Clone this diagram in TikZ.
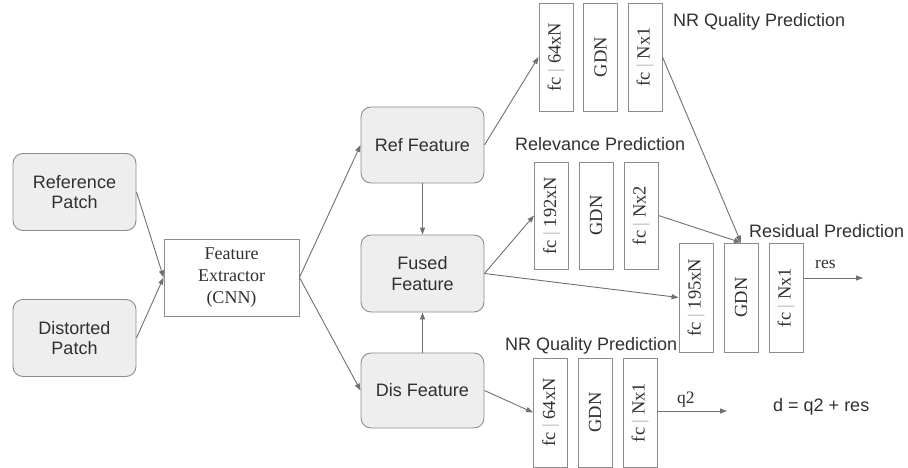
\documentclass[tikz,border=0pt]{standalone}
\usepackage{fontspec}
\setmainfont{Liberation Sans}
\newfontfamily\serifface{Liberation Serif}
\usetikzlibrary{arrows.meta}
\definecolor{ink}{HTML}{303030}
\definecolor{edgegray}{HTML}{8C8C8C}
\definecolor{wire}{HTML}{707070}
\definecolor{panel}{HTML}{EEEEEE}
\definecolor{barcol}{HTML}{B0B0B0}
\newcommand{\sepbar}{{\color{barcol}|}}

\begin{document}
\begin{tikzpicture}[x=1pt,y=-1pt,
  font=\fontsize{18}{20.5}\selectfont, text=ink,
  rbox/.style={draw=edgegray, fill=panel, rounded corners=10pt, line width=0.9pt,
    minimum width=123pt, minimum height=77pt, align=center, inner sep=0pt},
  febox/.style={draw=edgegray, fill=white, line width=0.9pt,
    minimum width=135pt, minimum height=77pt, align=center, inner sep=0pt,
    font=\serifface\fontsize{18}{22}\selectfont},
  layer/.style={draw=edgegray, fill=white, line width=0.9pt,
    minimum width=34pt, minimum height=108pt, inner sep=0pt},
  vtext/.style={rotate=90, inner sep=0pt, text=ink,
    font=\serifface\fontsize{18.5}{20}\selectfont},
  head/.style={anchor=base west, inner sep=0pt},
  tag/.style={anchor=base west, inner sep=0pt, font=\serifface\fontsize{17.5}{20}\selectfont},
  arr/.style={draw=wire, line width=0.9pt, -{Triangle[length=7pt,width=5pt]}}
]
\useasboundingbox (0,0) rectangle (908,468);

% input patches and shared extractor
\node[rbox] (refp) at (74.5,192) {Reference\\Patch};
\node[rbox] (disp) at (74.5,338) {Distorted\\Patch};
\node[febox] (fe) at (231.5,277.5) {Feature\\Extractor\\(CNN)};

% feature nodes
\node[rbox, minimum height=76pt] (reff) at (422.5,145) {Ref Feature};
\node[rbox] (fused) at (422.5,273.5) {Fused\\Feature};
\node[rbox, minimum height=75pt] (disf) at (422.5,390.5) {Dis Feature};

% NR quality head (reference branch)
\node[layer, label={[vtext]center:fc \sepbar{} 64xN}] (qa) at (556,57) {};
\node[layer, label={[vtext]center:GDN}] (qb) at (600.5,57) {};
\node[layer, label={[vtext]center:fc \sepbar{} Nx1}] (qc) at (645,57) {};

% relevance head
\node[layer, minimum height=107pt, label={[vtext]center:fc \sepbar{} 192xN}] (ra) at (551.5,215.5) {};
\node[layer, minimum height=107pt, label={[vtext]center:GDN}] (rb) at (596,215.5) {};
\node[layer, minimum height=107pt, label={[vtext]center:fc \sepbar{} Nx2}] (rc) at (641,215.5) {};

% residual head
\node[layer, minimum height=109pt, label={[vtext]center:fc \sepbar{} 195xN}] (sa) at (696,297.5) {};
\node[layer, minimum height=109pt, label={[vtext]center:GDN}] (sb) at (741,297.5) {};
\node[layer, minimum height=109pt, label={[vtext]center:fc \sepbar{} Nx1}] (sc) at (786,297.5) {};

% NR quality head (distorted branch)
\node[layer, minimum height=109pt, label={[vtext]center:fc \sepbar{} 64xN}] (da) at (550.5,412.5) {};
\node[layer, minimum height=109pt, label={[vtext]center:GDN}] (db) at (595,412.5) {};
\node[layer, minimum height=109pt, label={[vtext]center:fc \sepbar{} Nx1}] (dc) at (640,412.5) {};

% head titles
\node[head] (t1) at (673,27) {NR Quality Prediction};
\node[head] (t2) at (515,150) {Relevance Prediction};
\node[head] (t3) at (749,237) {Residual Prediction};
\node[head] (t4) at (505,350) {NR Quality Prediction};
\node[head] (eq) at (773,411) {d = q2 + res};

% output ends
\coordinate (resend) at (863,278);
\coordinate (q2end) at (727,411);
\node[tag] (reslbl) at (815,268) {res};
\node[tag] (q2lbl) at (677,403) {q2};

% connectors
\draw[arr] (refp.east) -- (fe.west);
\draw[arr] (disp.east) -- (fe.west);
\draw[arr] (fe.east) -- (reff.west);
\draw[arr] (fe.east) -- (disf.west);
\draw[arr] (reff.south) -- (fused.north);
\draw[arr] (disf.north) -- (fused.south);
\draw[arr] (reff.east) -- (qa.west);
\draw[arr] (fused.east) -- (ra.west);
\draw[arr] (fused.east) -- (sa.west);
\draw[arr] (disf.east) -- (da.west);
\draw[arr] (qc.east) -- (sb.north);
\draw[arr] (rc.east) -- (sb.north);
\draw[arr] (sc.east |- resend) -- (resend);
\draw[arr] (dc.east |- q2end) -- (q2end);
\end{tikzpicture}
\end{document}
